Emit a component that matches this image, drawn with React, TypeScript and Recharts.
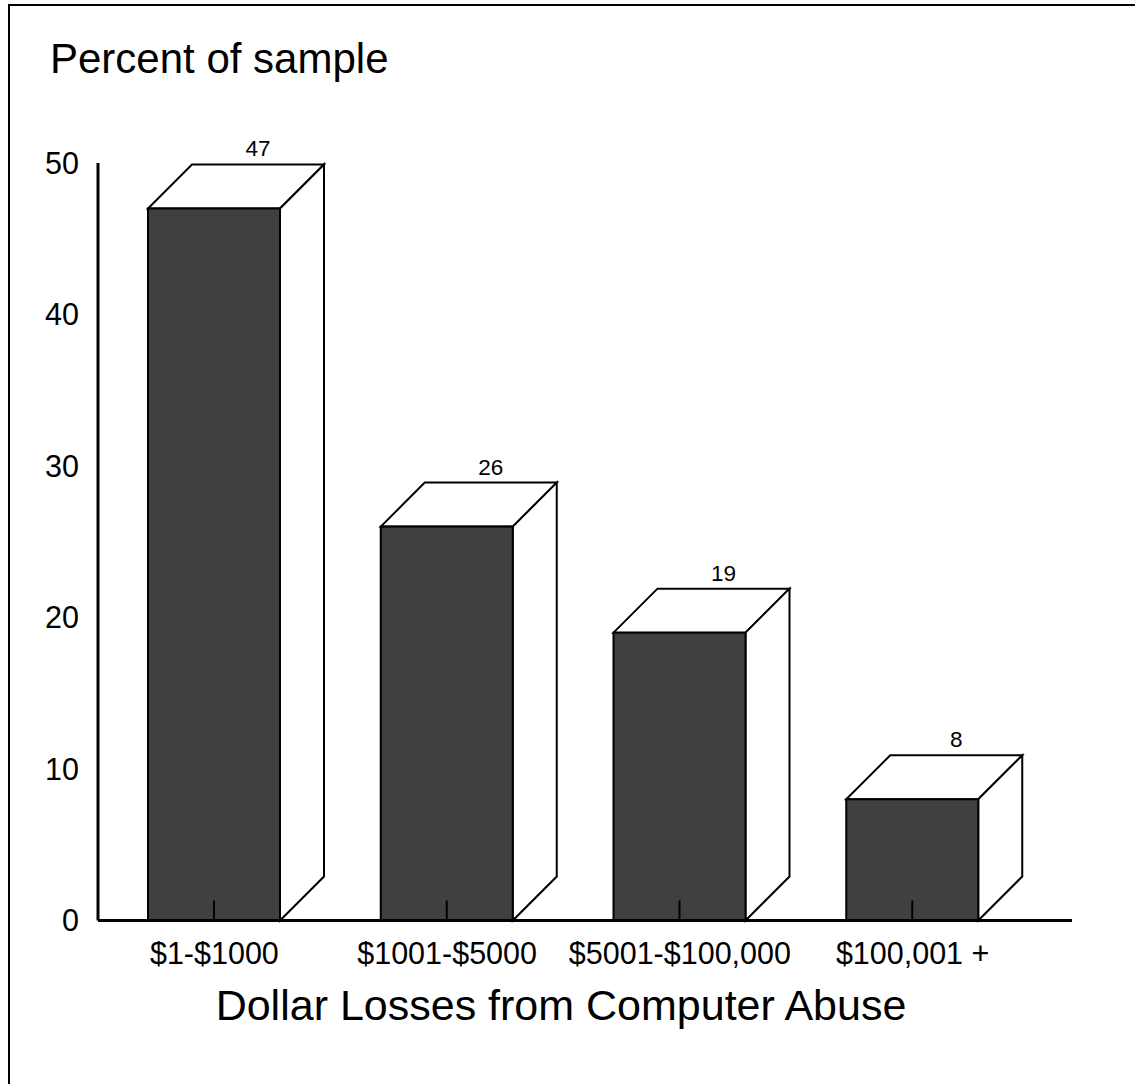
import React from "react";
import { BarChart, Bar, XAxis, YAxis, LabelList } from "recharts";

const categories = ["$1-$1000", "$1001-$5000", "$5001-$100,000", "$100,001 +"];
const percents = [47, 26, 19, 8];
const yTicks = [0, 10, 20, 30, 40, 50];

const chartTitle = "Percent of sample";
const xTitle = "Dollar Losses from Computer Abuse";

const data = categories.map((c, i) => ({ name: c, value: percents[i] }));

const DEPTH = 44;
const FONT = "'Liberation Sans', Arial, Helvetica, sans-serif";

const Bar3D = (props: any) => {
  const { x, y, width, height } = props;
  if (x == null || y == null) return null;
  const d = DEPTH;
  const top = `${x},${y} ${x + d},${y - d} ${x + width + d},${y - d} ${x + width},${y}`;
  const side = `${x + width},${y} ${x + width + d},${y - d} ${x + width + d},${y + height - d} ${x + width},${y + height}`;
  const cx = x + width / 2;
  return (
    <g>
      <polygon points={top} fill="#ffffff" stroke="#000" strokeWidth={2} strokeLinejoin="miter" />
      <polygon points={side} fill="#ffffff" stroke="#000" strokeWidth={2} strokeLinejoin="miter" />
      <rect x={x} y={y} width={width} height={height} fill="#404040" stroke="#000" strokeWidth={2} />
      <line x1={cx} y1={y + height} x2={cx} y2={y + height - 20} stroke="#000" strokeWidth={2} />
    </g>
  );
};

const ValueLabel = (props: any) => {
  const { x, y, width, value } = props;
  return (
    <text
      x={x + width / 2 + DEPTH}
      y={y - DEPTH - 8}
      textAnchor="middle"
      fontSize={22.5}
      fontFamily={FONT}
      fill="#000"
    >
      {value}
    </text>
  );
};

export default function App() {
  return (
    <div
      style={{
        position: "absolute",
        left: 0,
        top: 0,
        width: 1135,
        height: 1084,
        overflow: "hidden",
        background: "#fff",
      }}
    >
      <div
        style={{
          position: "absolute",
          left: 8,
          top: 4,
          width: 1200,
          height: 1200,
          border: "2px solid #000",
          boxSizing: "border-box",
        }}
      />
      <div style={{ position: "absolute", left: 0, top: 0 }}>
        <BarChart
          width={1135}
          height={1084}
          data={data}
          margin={{ top: 163, right: 63, bottom: 123.5, left: 20 }}
        >
          <XAxis
            dataKey="name"
            height={40}
            padding={{ left: 0, right: 43 }}
            axisLine={{ stroke: "#000", strokeWidth: 3 }}
            tickLine={false}
            tickSize={0}
            tickMargin={22}
            interval={0}
            tick={{ fill: "#000", fontSize: 30.5, fontFamily: FONT }}
          />
          <YAxis
            width={78}
            domain={[0, 50]}
            ticks={yTicks}
            axisLine={{ stroke: "#000", strokeWidth: 3 }}
            tickLine={false}
            tickSize={0}
            tickMargin={19}
            tick={{ fill: "#000", fontSize: 30.5, fontFamily: FONT }}
          />
          <Bar dataKey="value" barSize={132} shape={<Bar3D />} isAnimationActive={false}>
            <LabelList dataKey="value" content={<ValueLabel />} />
          </Bar>
        </BarChart>
      </div>
      <svg
        width={1135}
        height={1084}
        style={{ position: "absolute", left: 0, top: 0, pointerEvents: "none" }}
      >
        <text x={50} y={73} fontSize={42} fontFamily={FONT} fill="#000">
          {chartTitle}
        </text>
        <text x={561} y={1020} fontSize={43} fontFamily={FONT} fill="#000" textAnchor="middle">
          {xTitle}
        </text>
      </svg>
    </div>
  );
}
